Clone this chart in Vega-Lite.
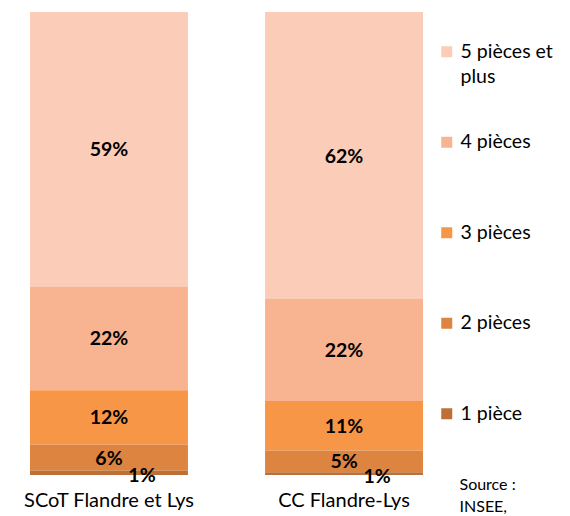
{
  "$schema": "https://vega.github.io/schema/vega-lite/v6.json",
  "autosize": {"type": "none"},
  "width": 393,
  "height": 463,
  "padding": {"left": 30, "top": 12, "right": 147, "bottom": 41},
  "background": "white",
  "config": {
    "view": {"stroke": null},
    "font": "Lato",
    "style": {"guide-label": {"lineHeight": 25}}
  },
  "data": {
    "values": [
      {"zone": "SCoT Flandre et Lys", "cat": "5 pièces et plus", "rank": 5, "pct": 0.593},
      {"zone": "SCoT Flandre et Lys", "cat": "4 pièces", "rank": 4, "pct": 0.224},
      {"zone": "SCoT Flandre et Lys", "cat": "3 pièces", "rank": 3, "pct": 0.117},
      {"zone": "SCoT Flandre et Lys", "cat": "2 pièces", "rank": 2, "pct": 0.057},
      {"zone": "SCoT Flandre et Lys", "cat": "1 pièce", "rank": 1, "pct": 0.009},
      {"zone": "CC Flandre-Lys", "cat": "5 pièces et plus", "rank": 5, "pct": 0.620},
      {"zone": "CC Flandre-Lys", "cat": "4 pièces", "rank": 4, "pct": 0.220},
      {"zone": "CC Flandre-Lys", "cat": "3 pièces", "rank": 3, "pct": 0.107},
      {"zone": "CC Flandre-Lys", "cat": "2 pièces", "rank": 2, "pct": 0.047},
      {"zone": "CC Flandre-Lys", "cat": "1 pièce", "rank": 1, "pct": 0.006}
    ]
  },
  "transform": [
    {"stack": "pct", "groupby": ["zone"], "sort": [{"field": "rank", "order": "ascending"}], "as": ["y0", "y1"]},
    {"calculate": "(datum.y0 + datum.y1) / 2", "as": "ymid"}
  ],
  "encoding": {
    "x": {
      "field": "zone", "type": "nominal",
      "sort": ["SCoT Flandre et Lys", "CC Flandre-Lys"],
      "scale": {"paddingInner": 0.328, "paddingOuter": 0},
      "axis": {
        "title": ["Source :", "INSEE,"],
        "titleX": 429, "titleY": 1, "titleAlign": "left", "titleBaseline": "top",
        "titleFontSize": 16, "titleFontWeight": "normal", "titleLineHeight": 22, "titleColor": "#000000",
        "labelAngle": 0, "labelFontSize": 20, "labelColor": "#000000", "labelPadding": 15,
        "domain": false, "ticks": false
      }
    }
  },
  "layer": [
    {
      "mark": {"type": "bar"},
      "encoding": {
        "y": {"field": "y0", "type": "quantitative", "scale": {"domain": [0, 1], "nice": false}, "axis": null},
        "y2": {"field": "y1"},
        "color": {
          "field": "cat", "type": "nominal",
          "scale": {
            "domain": ["5 pièces et plus", "4 pièces", "3 pièces", "2 pièces", "1 pièce"],
            "range": ["#FBCDB8", "#F8B490", "#F79646", "#DD8441", "#BD6F37"]
          },
          "legend": {
            "title": null,
            "orient": "none", "legendX": 407, "legendY": 30,
            "symbolType": "square", "symbolSize": 121, "symbolStrokeWidth": 0,
            "labelFontSize": 19.5, "labelColor": "#000000", "labelOffset": 4,
            "gridAlign": "all", "rowPadding": 44.5, "labelLimit": 200,
            "labelExpr": "datum.label == '5 pièces et plus' ? ['5 pièces et', 'plus'] : datum.label"
          }
        }
      }
    },
    {
      "transform": [{"filter": "datum.rank > 1"}],
      "mark": {"type": "text", "fontWeight": "bold", "fontSize": 19.5, "color": "#000000", "dy": 1},
      "encoding": {
        "y": {"field": "ymid", "type": "quantitative"},
        "text": {"field": "pct", "type": "quantitative", "format": ".0%"}
      }
    },
    {
      "transform": [{"filter": "datum.rank == 1"}],
      "mark": {"type": "text", "fontWeight": "bold", "fontSize": 19.5, "color": "#000000", "dx": 33, "dy": 3},
      "encoding": {
        "y": {"field": "ymid", "type": "quantitative"},
        "text": {"field": "pct", "type": "quantitative", "format": ".0%"}
      }
    }
  ]
}
